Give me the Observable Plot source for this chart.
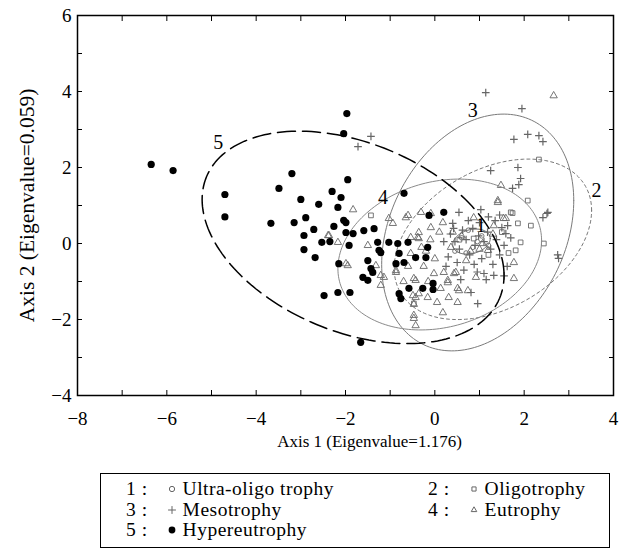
<!DOCTYPE html>
<html>
<head>
<meta charset="utf-8">
<script src="https://cdn.jsdelivr.net/npm/d3@7"></script>
<script src="https://cdn.jsdelivr.net/npm/@observablehq/plot@0.6"></script>
<style>
  body { margin: 0; background: #fff; font-family: "Liberation Serif", "Times New Roman", serif; color: #000; }
  #chart { width: 628px; }
  #chart > svg { display: block; }
  .legend {
    box-sizing: border-box; margin: 13px 0 0 100px; width: 510px; height: 75px;
    border: 1.5px solid #000; padding: 5px 0 0 25px;
    font-family: "Liberation Serif", serif; font-size: 19.5px; line-height: 20.5px; letter-spacing: 0.5px;
  }
  .legend .row { display: flex; height: 20.5px; }
  .legend .item { white-space: nowrap; display: flex; align-items: center; }
  .legend .item:first-child { width: 302px; }
  .legend .item svg { margin: 0 6px 0 19px; }
</style>
</head>
<body>
<div id="chart"></div>
<div id="legend"></div>
<script>
// Axis extents and ticks
const xDomain = [-8, 4];
const yDomain = [-4, 6];
const xLabelTicks = [-8, -6, -4, -2, 0, 2, 4];
const yLabelTicks = [-4, -2, 0, 2, 4, 6];
const xTicks = [-8, -7, -6, -5, -4, -3, -2, -1, 0, 1, 2, 3, 4];
const yTicks = [-4, -3, -2, -1, 0, 1, 2, 3, 4, 5, 6];

// Class names (legend order)
const classIds = [1, 2, 3, 4, 5];
const classNames = ["Ultra-oligo trophy", "Oligotrophy", "Mesotrophy", "Eutrophy", "Hypereutrophy"];

// Sample scores on axis 1 / axis 2, by trophic class
const ultraOligo = [
  [0.6, 0.15], [0.85, -0.1], [1.05, 0.2], [0.75, 0.35], [1.2, -0.05], [0.45, -0.2],
  [0.95, 0.05], [0.7, -0.25]
];
const oligo = [
  [2.33, 2.21], [2.08, 1.13], [1.7, 0.82], [-1.43, 0.74], [1.74, 0.8], [1.86, 0.53],
  [2.15, 0.47], [1.92, 0.03], [1.81, -0.18], [2.44, 0.0], [0.87, 0.13], [-0.47, -1.58],
  [1.5, 0.3], [1.2, -0.3], [0.55, 0.1], [1.65, -0.25]
];
const meso = [
  [-1.43, 2.82], [-1.72, 2.55], [1.14, 3.97], [1.95, 3.55], [1.77, 2.74], [2.08, 2.87],
  [2.33, 2.84], [2.42, 2.68], [1.25, 1.92], [1.86, 2.0], [1.92, 1.71], [1.74, 1.45],
  [1.88, 1.55], [2.53, 0.82], [2.42, 0.68], [2.51, 0.79], [2.77, -0.39], [2.75, -0.3],
  [0.96, -1.58], [0.81, -1.29], [1.32, -0.84], [1.1, -0.79], [0.54, 0.82], [1.03, 0.89],
  [0.4, 0.53], [1.63, 0.47], [1.59, 0.26],
  [0.35, 0.25], [0.45, 0.05], [0.55, -0.15], [0.62, 0.35], [0.7, 0.1], [0.78, -0.3],
  [0.85, 0.4], [0.9, -0.05], [0.98, 0.2], [1.05, -0.4], [1.1, 0.05], [1.18, 0.3],
  [1.25, -0.15], [1.3, -0.55], [1.38, 0.1], [1.45, -0.3], [1.5, 0.42], [1.55, -0.05],
  [1.62, -0.6], [1.7, 0.15], [0.5, -0.5], [0.65, -0.7], [0.95, -0.75], [1.15, -0.95],
  [0.3, -0.35], [0.2, 0.05], [0.75, 0.6], [1.0, 0.55], [1.35, 0.6], [1.55, -0.85],
  [0.58, -0.95], [0.88, -0.55], [1.2, 0.7], [1.45, 0.75], [0.42, 0.4], [0.25, -0.6]
];
const eutro = [
  [-1.83, 0.89], [1.48, 1.53], [1.41, 1.13], [2.66, 3.89], [-0.65, 0.68], [-0.31, 0.82],
  [-0.09, 0.79], [0.87, 0.68], [1.54, 0.66], [-2.37, 0.21], [-1.99, -0.53], [-1.03, 0.66],
  [-0.6, 0.74], [0.18, 0.55], [-0.38, 0.16], [-0.54, -0.26], [-0.43, -0.97], [-1.14, -0.89],
  [-0.87, -0.76], [-1.21, -1.1], [-0.43, -1.42], [-0.47, -1.89], [-0.43, -2.16], [0.18, -1.82],
  [0.31, -1.42], [0.51, -1.55], [0.51, -1.18], [0.74, -1.24], [0.29, -1.03], [0.2, -0.76],
  [0.47, -0.76], [1.77, -0.5], [1.77, -0.92], [0.92, -0.89], [-1.32, -0.58], [-1.21, -0.84],
  [-0.87, -0.71], [-0.47, -0.92], [-0.36, -1.32], [-0.16, -1.42], [-0.49, -1.37], [-0.47, -1.6],
  [-0.47, -1.97], [0.29, -0.97], [-0.02, -0.79], [0.13, -1.18], [1.41, 1.08], [1.59, 0.66],
  [1.32, 0.47], [1.19, -0.18], [1.07, 0.0], [0.36, -0.1], [0.43, -0.79], [0.54, -1.24],
  [-2.39, 0.21], [-2.17, 0.03], [-1.95, -0.58], [-1.5, -0.05], [-0.94, 0.53], [-0.09, 0.42],
  [-0.36, 0.29], [-0.36, 0.13], [-0.54, 0.16], [-0.1, 0.1], [-0.2, -0.2], [0.0, -0.4],
  [0.1, 0.3], [-0.25, -0.6], [0.6, 0.2], [0.8, -0.2], [0.4, 0.3], [1.0, -0.15],
  [1.3, 0.25], [0.7, -0.45], [-0.15, -1.0], [0.05, -1.55], [-0.7, -1.0], [-0.3, -0.1],
  [-0.6, -0.6]
];
const hyper = [
  [-6.35, 2.08], [-5.86, 1.92], [-4.7, 1.29], [-4.7, 0.7], [-3.49, 1.45], [-3.2, 1.84],
  [-3.0, 1.16], [-2.6, 1.03], [-2.89, 0.68], [-1.97, 3.42], [-2.04, 2.89], [-1.95, 1.68],
  [-2.3, 1.37], [-2.1, 1.21], [-3.67, 0.53], [-3.15, 0.55], [-2.17, 0.95], [-2.71, 0.37],
  [-2.93, 0.21], [-2.26, 0.45], [-1.99, 0.55], [-1.99, 0.29], [-2.53, 0.03], [-2.35, 0.05],
  [-2.93, -0.16], [-2.68, -0.37], [-2.15, -0.53], [-2.48, -1.37], [-2.17, -1.29], [-1.9, -1.29],
  [-1.92, -0.05], [-2.04, 0.61], [-1.83, 0.26], [-1.59, 0.34], [-1.36, 0.39], [-1.28, 0.03],
  [-1.03, 0.03], [-1.21, -0.24], [-1.5, -0.45], [-1.43, -0.66], [-1.61, -0.89], [-1.5, -0.97],
  [-0.83, 0.0], [-0.8, -0.26], [-0.87, -0.53], [-0.69, -0.5], [-0.6, 0.03], [-0.43, -0.37],
  [-0.2, -0.37], [-0.16, -0.1], [-0.58, -1.18], [-0.8, -1.32], [-0.76, -1.45], [-0.27, -1.18],
  [-0.04, -1.05], [-0.04, -1.21], [0.2, 0.82], [-0.13, 0.74], [-1.66, -2.6], [-0.69, 1.32],
  [-1.25, -0.18], [-1.39, -0.76]
];

// Class ellipses: centre, and two conjugate semi-diameters (u, v), in axis units
const ellipseId = [1, 2, 3, 4, 5];
const ellipseCx = [0.82, 1.30, 0.96, 0.11, -1.83];
const ellipseCy = [0.05, 0.11, 0.29, -0.29, 0.16];
const ellipseUx = [0.42, 2.21, 2.15, 2.28, 3.38];
const ellipseUy = [0.08, 0.76, 0.84, 0.37, -1.00];
const ellipseVx = [0.0, 0.0, 0.0, 0.0, 0.0];
const ellipseVy = [0.32, 1.97, 3.0, 1.95, 2.61];

// Ellipse number labels
const labelText = ["1", "2", "3", "4", "5"];
const labelX = [1.03, 3.62, 0.85, -1.16, -4.85];
const labelY = [0.47, 1.38, 3.5, 1.21, 2.65];

const ellipseStyle = {
  1: {stroke: "#333", strokeWidth: 0.8, strokeDasharray: null},
  2: {stroke: "#777", strokeWidth: 1, strokeDasharray: "3,3"},
  3: {stroke: "#7a7a7a", strokeWidth: 1, strokeDasharray: null},
  4: {stroke: "#8a8a8a", strokeWidth: 1, strokeDasharray: null},
  5: {stroke: "#000", strokeWidth: 1.5, strokeDasharray: "18,7"}
};

function outline(i) {
  const n = 180;
  return d3.range(n + 1).map(k => {
    const t = (2 * Math.PI * k) / n;
    return {
      x: ellipseCx[i] + ellipseUx[i] * Math.cos(t) + ellipseVx[i] * Math.sin(t),
      y: ellipseCy[i] + ellipseUy[i] * Math.cos(t) + ellipseVy[i] * Math.sin(t)
    };
  });
}

const px = d => d[0], py = d => d[1];
const grey = "#666";
const serif = "'Liberation Serif', 'Times New Roman', serif";

const chart = Plot.plot({
  width: 628,
  height: 460,
  marginLeft: 77,
  marginRight: 15,
  marginTop: 15,
  marginBottom: 65,
  x: {domain: xDomain},
  y: {domain: yDomain},
  style: {fontFamily: serif, fontSize: "19px", color: "#000", background: "#fff"},
  marks: [
    Plot.line(outline(0), {x: "x", y: "y", ...ellipseStyle[1]}),
    Plot.dot(eutro, {x: px, y: py, symbol: "triangle2", r: 3.5, stroke: grey, strokeWidth: 0.9}),
    Plot.dot(meso, {x: px, y: py, symbol: "plus", r: 2.6, stroke: grey, strokeWidth: 1.2}),
    Plot.dot(oligo, {x: px, y: py, symbol: "square2", r: 3.0, stroke: grey, strokeWidth: 0.9}),
    Plot.dot(ultraOligo, {x: px, y: py, symbol: "circle", r: 2.3, stroke: grey, strokeWidth: 0.9}),
    ...ellipseId.slice(1).map((id, j) => Plot.line(outline(j + 1), {x: "x", y: "y", ...ellipseStyle[id]})),
    Plot.dot(hyper, {x: px, y: py, r: 3.6, fill: "#000"}),
    Plot.text(labelText, {x: (d, i) => labelX[i], y: (d, i) => labelY[i], text: d => d, fontSize: 20}),
    Plot.frame({stroke: "#000", strokeWidth: 1.5}),
    // inward ticks on all four sides
    Plot.axisX(xTicks, {anchor: "bottom", tickSize: -5, fill: "none", label: null}),
    Plot.axisX(xTicks, {anchor: "top", tickSize: -5, fill: "none", label: null}),
    Plot.axisY(yTicks, {anchor: "left", tickSize: -5, fill: "none", label: null}),
    Plot.axisY(yTicks, {anchor: "right", tickSize: -5, fill: "none", label: null}),
    // tick labels
    Plot.axisX(xLabelTicks, {anchor: "bottom", tickSize: 0, tickPadding: 16, fontSize: 19, label: null}),
    Plot.axisY(yLabelTicks, {anchor: "left", tickSize: 0, tickPadding: 6, fontSize: 19, label: null}),
    // axis titles
    Plot.text(["Axis 1 (Eigenvalue=1.176)"], {
      text: d => d, frameAnchor: "bottom", textAnchor: "middle", lineAnchor: "middle",
      dx: 24, dy: 46, fontSize: 17
    }),
    Plot.text(["Axis 2 (Eigenvalue=0.059)"], {
      text: d => d, frameAnchor: "left", textAnchor: "middle", lineAnchor: "middle",
      rotate: -90, dx: -50, fontSize: 21.5
    })
  ]
});
document.getElementById("chart").appendChild(chart);

// Legend box below the plot
const symbolFor = {1: d3.symbolCircle, 2: d3.symbolSquare2, 3: d3.symbolPlus, 4: d3.symbolTriangle2, 5: d3.symbolCircle};
const legend = d3.select("#legend").attr("class", "legend");
const rows = [[0, 1], [2, 3], [4]];
rows.forEach(r => {
  const row = legend.append("div").attr("class", "row");
  r.forEach(i => {
    const id = classIds[i];
    const item = row.append("div").attr("class", "item");
    item.append("span").text(`${id} :`);
    const s = item.append("svg").attr("width", 10).attr("height", 10);
    s.append("path")
      .attr("transform", "translate(5,5)")
      .attr("d", d3.symbol(symbolFor[id], id === 5 ? 36 : 22)())
      .attr("fill", id === 5 ? "#000" : "none")
      .attr("stroke", id === 5 ? "none" : grey)
      .attr("stroke-width", 1);
    item.append("span").text(classNames[i]);
  });
});
</script>
</body>
</html>
